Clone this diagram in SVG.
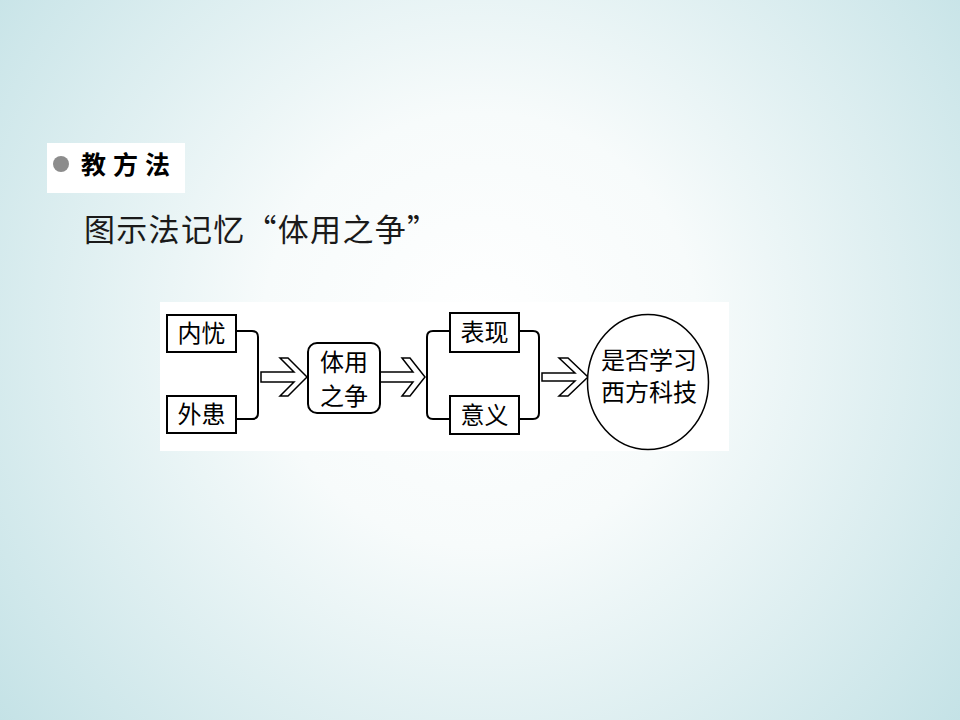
<svg xmlns="http://www.w3.org/2000/svg" width="960" height="720" viewBox="0 0 960 720">
  <defs>
    <radialGradient id="bg" cx="480" cy="330" r="620" gradientUnits="userSpaceOnUse">
      <stop offset="0" stop-color="#ffffff"/>
      <stop offset="0.35" stop-color="#f7fbfb"/>
      <stop offset="1" stop-color="#c4e2e6"/>
    </radialGradient>
  </defs>
  <style>
    .lbl { font-family: "Noto Sans CJK SC", "DejaVu Sans", sans-serif; font-size: 24px; fill: #000; text-anchor: middle; }
    .box { fill: #fff; stroke: #000; stroke-width: 2; }
    .line { fill: none; stroke: #000; stroke-width: 2; }
    .arrow { fill: #fff; stroke: #000; stroke-width: 1.5; stroke-linejoin: miter; }
  </style>
  <rect x="0" y="0" width="960" height="720" fill="url(#bg)"/>

  <g id="header">
    <rect x="47" y="143" width="138" height="50" fill="#ffffff"/>
    <circle cx="61" cy="164" r="8" fill="#8c8c8c"/>
    <text x="81" y="174" font-family="'Noto Sans CJK SC', 'DejaVu Sans', sans-serif" font-size="25" font-weight="bold" letter-spacing="7" fill="#000">教方法</text>
  </g>

  <g id="subtitle">
    <text x="84" y="241" font-family="'Noto Sans CJK SC', 'DejaVu Sans', sans-serif" font-size="31" letter-spacing="1.3" fill="#1a1a1a">图示法记忆“体用之争”</text>
  </g>

  <rect id="panel" x="160" y="302" width="569" height="149" fill="#ffffff"/>

  <g id="connectors">
    <path class="line" d="M236,331 H252 Q258,331 258,337 V413 Q258,419 252,419 H236"/>
    <path class="line" d="M450,331 H433 Q427,331 427,337 V413 Q427,419 433,419 H450"/>
    <path class="line" d="M519,331 H533 Q539,331 539,337 V413 Q539,419 533,419 H519"/>
    <path class="arrow" d="M261,372 H294 L280,358 H288 L307,377 L288,396 H280 L294,382 H261 Z"/>
    <path class="arrow" d="M380,372 H413 L402,358 H410 L425,377 L410,396 H402 L413,382 H380 Z"/>
    <path class="arrow" d="M542,373 H575 L559,358 H568 L588,377 L568,396 H559 L575,381 H542 Z"/>
  </g>

  <g id="node-neiyou">
    <rect class="box" x="167" y="315" width="69" height="37"/>
    <text class="lbl" x="201.5" y="342">内忧</text>
  </g>
  <g id="node-waihuan">
    <rect class="box" x="167" y="396" width="69" height="37"/>
    <text class="lbl" x="201.5" y="423">外患</text>
  </g>
  <g id="node-tiyong">
    <rect class="box" x="308" y="343" width="72" height="70" rx="9" ry="9" stroke-width="1.5"/>
    <text class="lbl" x="344" y="371" font-size="26">体用</text>
    <text class="lbl" x="344" y="405" font-size="26">之争</text>
  </g>
  <g id="node-biaoxian">
    <rect class="box" x="450" y="313" width="69" height="39"/>
    <text class="lbl" x="484.5" y="341">表现</text>
  </g>
  <g id="node-yiyi">
    <rect class="box" x="450" y="396" width="69" height="38"/>
    <text class="lbl" x="484.5" y="424">意义</text>
  </g>
  <g id="node-result">
    <ellipse cx="648" cy="382" rx="60.5" ry="67.5" fill="#fff" stroke="#000" stroke-width="1.5"/>
    <text class="lbl" x="649" y="369">是否学习</text>
    <text class="lbl" x="649" y="401">西方科技</text>
  </g>
</svg>
